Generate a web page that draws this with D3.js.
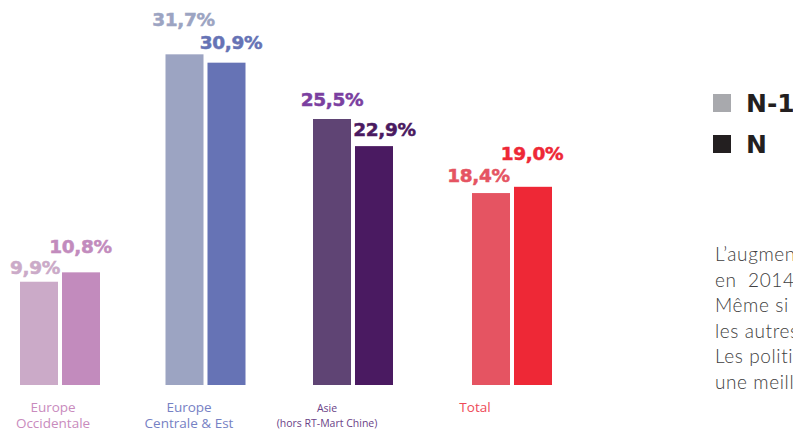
<!DOCTYPE html>
<html lang="fr">
<head>
<meta charset="utf-8">
<script src="https://cdn.jsdelivr.net/npm/d3@7/dist/d3.min.js"></script>
<style>
  html, body { margin: 0; padding: 0; background: #ffffff; overflow: hidden; }
  svg { display: block; }
</style>
</head>
<body>
<svg id="chart" width="793" height="432"></svg>
<script>
// ---- data ----
const categories = ["Europe Occidentale", "Europe Centrale & Est", "Asie (hors RT-Mart Chine)", "Total"];
const categoryLines = [["Europe", "Occidentale"], ["Europe", "Centrale & Est"], ["Asie", "(hors RT-Mart Chine)"], ["Total"]];
const seriesNames = ["N-1", "N"];
const valuesPrev = [9.9, 31.7, 25.5, 18.4];   // N-1
const valuesCurr = [10.8, 30.9, 22.9, 19.0];  // N
const paragraphLines = ["L\u2019augmentation", "en  2014", "Même si", "les autres", "Les politiques", "une meilleure"];

// ---- styling ----
const barColors = [
  ["#cbaac8", "#c28bbd"],
  ["#9ca4c2", "#6673b5"],
  ["#5f4474", "#4a1a61"],
  ["#e55462", "#ee2836"]
];
const labelColors = [
  ["#cbaac8", "#c28bbd"],
  ["#9ca4c2", "#6673b5"],
  ["#7b3fa0", "#4a1a61"],
  ["#e55462", "#ee2836"]
];
const categoryColors = ["#c98bbd", "#7681c4", "#6a3f87", "#ee4a57"];
const legendColors = ["#a8a9ad", "#231f20"];

// value label nudges [dx, dy] from the top-centre of each bar
const nudgePrev = [[-4, -8], [-1, -28], [0, -13], [-12.5, -11]];
const nudgeCurr = [[-0.5, -19], [4.5, -14], [10.5, -10], [-1, -27]];
// category label horizontal nudges from the group centre
const categoryNudge = [-7, -16.5, -26, -37];

const svg = d3.select("#chart");

// ---- scales ----
const x = d3.scaleOrdinal().domain(categories).range([60, 205.5, 353, 512]);
const xSub = d3.scaleBand().domain(seriesNames).range([-40, 40]).paddingInner(0.095);
const y = d3.scaleLinear().domain([0, 32]).range([385, 51.2]);

const rows = categories.map((c, i) => ({
  cat: c, i,
  vals: [valuesPrev[i], valuesCurr[i]]
}));

const fmt = v => d3.format(".1f")(v).replace(".", ",") + "%";

// ---- bars ----
const groups = svg.append("g").selectAll("g.group")
  .data(rows).join("g")
  .attr("class", "group")
  .attr("transform", d => `translate(${x(d.cat)},0)`);

groups.selectAll("rect")
  .data(d => d.vals.map((v, s) => ({ v, s, i: d.i })))
  .join("rect")
  .attr("x", d => xSub(seriesNames[d.s]))
  .attr("width", xSub.bandwidth())
  .attr("y", d => y(d.v))
  .attr("height", d => y(0) - y(d.v))
  .attr("fill", d => barColors[d.i][d.s]);

// ---- value labels ----
groups.selectAll("text.val")
  .data(d => d.vals.map((v, s) => ({ v, s, i: d.i })))
  .join("text")
  .attr("class", "val")
  .attr("x", d => xSub(seriesNames[d.s]) + xSub.bandwidth() / 2 + (d.s === 0 ? nudgePrev : nudgeCurr)[d.i][0])
  .attr("y", d => y(d.v) + (d.s === 0 ? nudgePrev : nudgeCurr)[d.i][1])
  .attr("text-anchor", "middle")
  .attr("font-family", "'DejaVu Sans', sans-serif")
  .attr("font-weight", "bold")
  .attr("font-size", 18.5)
  .attr("letter-spacing", -0.3)
  .attr("fill", d => labelColors[d.i][d.s])
  .attr("stroke", d => labelColors[d.i][d.s])
  .attr("stroke-width", 0.5)
  .text(d => fmt(d.v));

// ---- category labels ----
groups.each(function (d) {
  const small = d.i === 2;
  const t = d3.select(this).append("text")
    .attr("text-anchor", "middle")
    .attr("font-family", "'Open Sans', sans-serif")
    .attr("font-size", small ? 10.5 : 13.5)
    .attr("fill", categoryColors[d.i]);
  categoryLines[d.i].forEach((line, k) => {
    t.append("tspan")
      .attr("x", categoryNudge[d.i])
      .attr("y", (small ? 412 : 411.5) + k * (small ? 15 : 16.5))
      .text(line);
  });
});

// ---- legend ----
const legend = svg.append("g").attr("transform", "translate(713,0)");
const legendY = d3.scalePoint().domain(seriesNames).range([94, 135]);
seriesNames.forEach((name, s) => {
  legend.append("rect")
    .attr("x", 0).attr("y", legendY(name))
    .attr("width", 18).attr("height", 18)
    .attr("fill", legendColors[s]);
  legend.append("text")
    .attr("x", 33).attr("y", legendY(name) + 18)
    .attr("font-family", "'DejaVu Sans', sans-serif")
    .attr("font-weight", "bold")
    .attr("font-size", 25)
    .attr("fill", "#231f20")
    .text(name);
});

// ---- side paragraph ----
const para = svg.append("text")
  .attr("font-family", "Lato, sans-serif")
  .attr("font-weight", 300)
  .attr("font-size", 19)
  .attr("letter-spacing", 0.6)
  .attr("fill", "#404040");
paragraphLines.forEach((line, k) => {
  para.append("tspan")
    .attr("x", 715)
    .attr("y", 261 + k * 25.6)
    .attr("xml:space", "preserve")
    .text(line);
});
</script>
</body>
</html>
